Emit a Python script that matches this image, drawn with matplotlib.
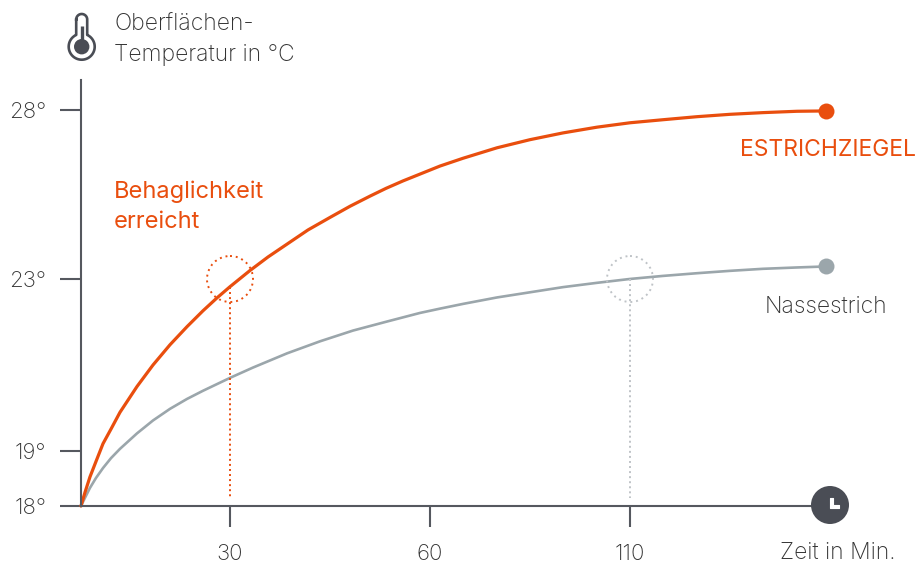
import numpy as np
import matplotlib
matplotlib.use('Agg')
from matplotlib import pyplot as plt
from matplotlib.patches import Circle, Polygon

# werte
zeit_estrichziegel = [0, 0.81, 1.81, 3.02, 4.43, 6.04, 7.85, 11.28, 14.5, 17.92, 21.34, 24.56, 27.38, 30, 33,
                      35.7, 38.55, 41.7, 45, 48, 51, 53.4, 55.95, 62.5, 68.25, 76.75, 85, 93.25, 101.75,
                      110, 118.4, 127.1, 135.5, 143.9, 152.6, 160]
temp_estrichziegel = [18, 18.25, 18.53, 18.81, 19.17, 19.51, 19.90, 20.50, 21.00, 21.47, 21.89, 22.26, 22.56,
                      22.82, 23.25, 23.65, 24.03, 24.45, 24.82, 25.15, 25.45, 25.68, 25.90, 26.34, 26.57,
                      26.88, 27.12, 27.32, 27.49, 27.62, 27.71, 27.80, 27.87, 27.92, 27.96, 27.97]

zeit_nassestrich = [0, 0.81, 1.81, 3.02, 4.43, 6.04, 7.85, 11.28, 14.5, 17.92, 21.34, 24.56, 30, 33.45, 38.55,
                    43.5, 48.45, 53.55, 58.5, 62.5, 68.25, 76.75, 85, 93.25, 101.75, 110, 118.4, 127.1,
                    135.5, 143.9, 152.6, 160]
temp_nassestrich = [18, 18.15, 18.33, 18.51, 18.69, 18.87, 19.05, 19.41, 19.71, 19.98, 20.21, 20.40, 20.70,
                    20.94, 21.27, 21.55, 21.80, 22.01, 22.21, 22.31, 22.42, 22.57, 22.69, 22.81, 22.91,
                    23.00, 23.09, 23.17, 23.24, 23.30, 23.34, 23.37]

x_ticks = [30, 60, 110]
y_ticks = [18, 19, 23, 28]
y_labels = ['18°', '19°', '23°', '28°']

ORANGE = '#E94E0E'
GRAU = '#9BA6AB'
GRAU_HELL = '#BFC3C7'
ACHSE = '#55585F'
TEXT = '#333333'
DUNKEL = '#4A4D55'

plt.rcParams['font.family'] = ['Inter', 'DejaVu Sans']
plt.rcParams['font.size'] = 16

# die achsen sind im original nicht linear, deshalb stueckweise skala
x_stuetz = [0, 30, 60, 110, 160, 162]
x_lage = [0, 149, 349, 549, 745, 749]
y_stuetz = [18, 19, 23, 28, 29]
y_lage = [0, 55, 227, 396, 430]


def x_vor(v):
    return np.interp(v, x_stuetz, x_lage)


def x_rueck(v):
    return np.interp(v, x_lage, x_stuetz)


def y_vor(v):
    return np.interp(v, y_stuetz, y_lage)


def y_rueck(v):
    return np.interp(v, y_lage, y_stuetz)


B, H = 915, 563
fig = plt.figure(figsize=(B / 100, H / 100), dpi=100)
ax = fig.add_axes([81 / B, 1 - 506 / H, 749 / B, 426 / H])
ax.set_xscale('function', functions=(x_vor, x_rueck))
ax.set_yscale('function', functions=(y_vor, y_rueck))
ax.set_xlim(0, 162)
ax.set_ylim(18, 28.88)

for s in ['top', 'right']:
    ax.spines[s].set_visible(False)
for s in ['left', 'bottom']:
    ax.spines[s].set_color(ACHSE)
    ax.spines[s].set_linewidth(1.5)

ax.set_xticks(x_ticks)
ax.set_yticks(y_ticks)
ax.set_yticklabels(y_labels)
ax.minorticks_off()
ax.tick_params(axis='x', length=15, width=1.5, color=ACHSE, pad=12, labelsize=16, labelcolor=TEXT)
ax.tick_params(axis='y', length=15, width=1.5, color=ACHSE, pad=10, labelsize=16, labelcolor=TEXT)
for t in ax.get_xticklabels() + ax.get_yticklabels():
    t.set_fontweight('light')

ax.plot(zeit_nassestrich, temp_nassestrich, color=GRAU, lw=1.9, clip_on=False, solid_capstyle='round')
ax.plot(zeit_estrichziegel, temp_estrichziegel, color=ORANGE, lw=2.3, clip_on=False, solid_capstyle='round')
ax.plot(zeit_nassestrich[-1], temp_nassestrich[-1], 'o', color=GRAU, ms=11.5, mew=0, clip_on=False)
ax.plot(zeit_estrichziegel[-1], temp_estrichziegel[-1], 'o', color=ORANGE, ms=11.5, mew=0, clip_on=False)

# gepunktete linien zu den zeitpunkten
ax.plot([30, 30], [22.82, 18.15], color=ORANGE, lw=1.4, ls=(0, (1, 1.6)))
ax.plot([110, 110], [23.00, 18.15], color=GRAU_HELL, lw=1.4, ls=(0, (1, 1.6)))

# ebene in pixeln fuer symbole und beschriftung
ov = fig.add_axes([0, 0, 1, 1])
ov.set_xlim(0, B)
ov.set_ylim(H, 0)
ov.axis('off')
ov.patch.set_alpha(0)

ov.add_patch(Circle((230, 279), 23, fill=False, ec=ORANGE, lw=1.4, ls=(0, (1, 2))))
ov.add_patch(Circle((630, 279), 23, fill=False, ec=GRAU_HELL, lw=1.4, ls=(0, (1, 2))))

# uhr
ov.add_patch(Circle((830, 505), 19, fc=DUNKEL, ec='none', zorder=5))
ov.add_patch(Polygon([(829.5, 497.5), (832.5, 497.5), (832.5, 504.5), (839, 504.5), (839, 507.5), (829.5, 507.5)],
                     closed=True, fc='white', ec='white', lw=0.8, joinstyle='round', zorder=6))

# thermometer
w = np.linspace(np.pi, 0, 30)
oben_x = 81.7 + 5.5 * np.cos(w)
oben_y = 19.5 - 5.5 * np.sin(w)
winkel = np.arcsin(5.5 / 13)
b = np.linspace(winkel, 2 * np.pi - winkel, 80)
bauch_x = 81.7 + 13 * np.sin(b)
bauch_y = 46.7 - 13 * np.cos(b)
umriss_x = np.r_[oben_x, bauch_x, oben_x[0]]
umriss_y = np.r_[oben_y, bauch_y, oben_y[0]]
ov.plot(umriss_x, umriss_y, color=DUNKEL, lw=1.9, solid_joinstyle='round')
ov.add_patch(Circle((81.7, 46.7), 7.7, fc=DUNKEL, ec='none'))
ov.plot([81.7, 81.7], [26, 45], color=DUNKEL, lw=2.4, solid_capstyle='butt')

ov.text(114, 24, 'Oberflächen-', color=TEXT, fontsize=16.5, fontweight='light', va='center', ha='left')
ov.text(114, 55, 'Temperatur in °C', color=TEXT, fontsize=16.5, fontweight='light', va='center', ha='left')
ov.text(114, 192, 'Behaglichkeit', color=ORANGE, fontsize=17, va='center', ha='left')
ov.text(114, 222, 'erreicht', color=ORANGE, fontsize=17, va='center', ha='left')
ov.text(740, 150, 'ESTRICHZIEGEL', color=ORANGE, fontsize=16.5, va='center', ha='left')
ov.text(826, 307, 'Nassestrich', color=TEXT, fontsize=16.5, fontweight='light', va='center', ha='center')
ov.text(838, 553, 'Zeit in Min.', color=TEXT, fontsize=16.5, fontweight='light', va='center', ha='center')

fig.savefig('out.png', dpi=100)
